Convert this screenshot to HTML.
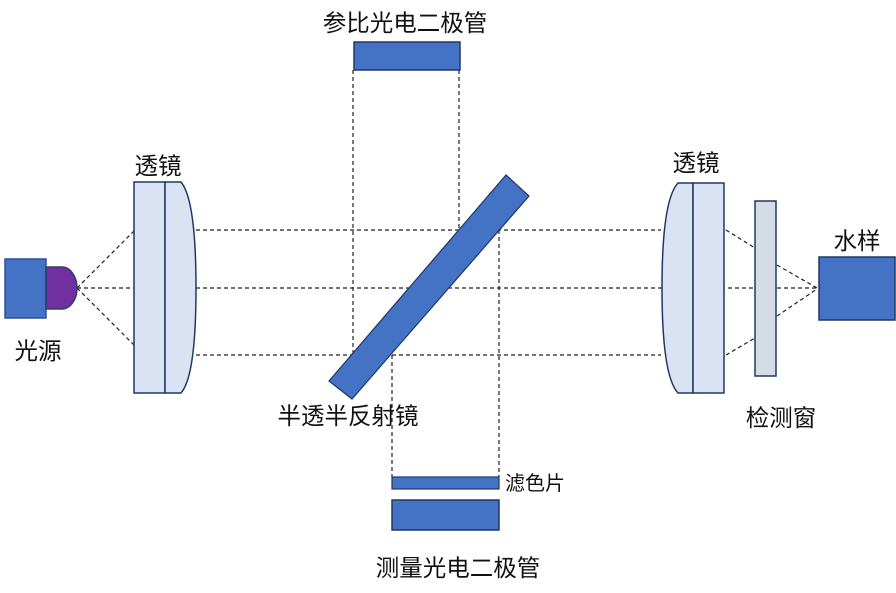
<!DOCTYPE html>
<html><head><meta charset="utf-8"><style>
html,body{margin:0;padding:0;background:#fff;}
svg{display:block;}
text{font-family:"Liberation Sans","Noto Sans CJK SC",sans-serif;fill:#111;}
</style></head><body>
<svg width="896" height="593" viewBox="0 0 896 593" xmlns="http://www.w3.org/2000/svg">
<g stroke="#222" stroke-width="1.2" stroke-dasharray="4,3" fill="none">
<line x1="196" y1="230" x2="661" y2="230"/>
<line x1="77" y1="288" x2="819" y2="288"/>
<line x1="196" y1="355" x2="661" y2="355"/>
<line x1="77" y1="288" x2="134" y2="231"/>
<line x1="77" y1="288" x2="134" y2="345"/>
<line x1="726" y1="230" x2="755" y2="248"/>
<line x1="726" y1="355" x2="755" y2="338"/>
<line x1="777" y1="265" x2="817" y2="288"/>
<line x1="777" y1="316" x2="817" y2="289"/>
<line x1="353" y1="70" x2="353" y2="355"/>
<line x1="459" y1="70" x2="459" y2="230"/>
<line x1="499" y1="230" x2="499" y2="477"/>
<line x1="392" y1="355" x2="392" y2="477"/>
</g>
<rect x="5" y="259" width="41" height="59" fill="#4472c4" stroke="#2f528f" stroke-width="1.5"/>
<path d="M46 267 H62 A15 21 0 0 1 62 309 H46 Z" fill="#7030a0" stroke="#2f3f6f" stroke-width="1.5"/>
<rect x="134" y="182" width="31" height="211" fill="#dae3f3" stroke="#203864" stroke-width="1.5"/>
<path d="M165 182 H181 Q196 200 196 288 Q196 376 181 393 H165 Z" fill="#dae3f3" stroke="#203864" stroke-width="1.5"/>
<path d="M693 183 H678 Q662 200 662 288 Q662 376 678 393 H693 Z" fill="#dae3f3" stroke="#203864" stroke-width="1.5"/>
<rect x="693" y="183" width="31" height="210" fill="#dae3f3" stroke="#203864" stroke-width="1.5"/>
<rect x="755" y="201" width="21" height="175" fill="#d6dce5" stroke="#203864" stroke-width="1.5"/>
<rect x="819" y="257" width="76" height="63" fill="#4472c4" stroke="#203864" stroke-width="1.5"/>
<polygon points="506,175 529,196 352,399 329,381" fill="#4472c4" stroke="#203864" stroke-width="1.2"/>
<rect x="354" y="42" width="106" height="28" fill="#4472c4" stroke="#203864" stroke-width="1.5"/>
<rect x="392" y="477" width="107" height="12" fill="#4472c4" stroke="#203864" stroke-width="1.2"/>
<rect x="392" y="500" width="107" height="30" fill="#4472c4" stroke="#203864" stroke-width="1.5"/>
<g font-size="23.5">
<text x="405" y="31" text-anchor="middle">参比光电二极管</text>
<text x="158" y="174" text-anchor="middle">透镜</text>
<text x="696" y="171" text-anchor="middle">透镜</text>
<text x="38" y="359" text-anchor="middle">光源</text>
<text x="857" y="249" text-anchor="middle">水样</text>
<text x="348" y="424" text-anchor="middle">半透半反射镜</text>
<text x="781" y="426" text-anchor="middle">检测窗</text>
<text x="458" y="576" text-anchor="middle">测量光电二极管</text>
</g>
<text x="505" y="490" font-size="20">滤色片</text>
</svg>
</body></html>
